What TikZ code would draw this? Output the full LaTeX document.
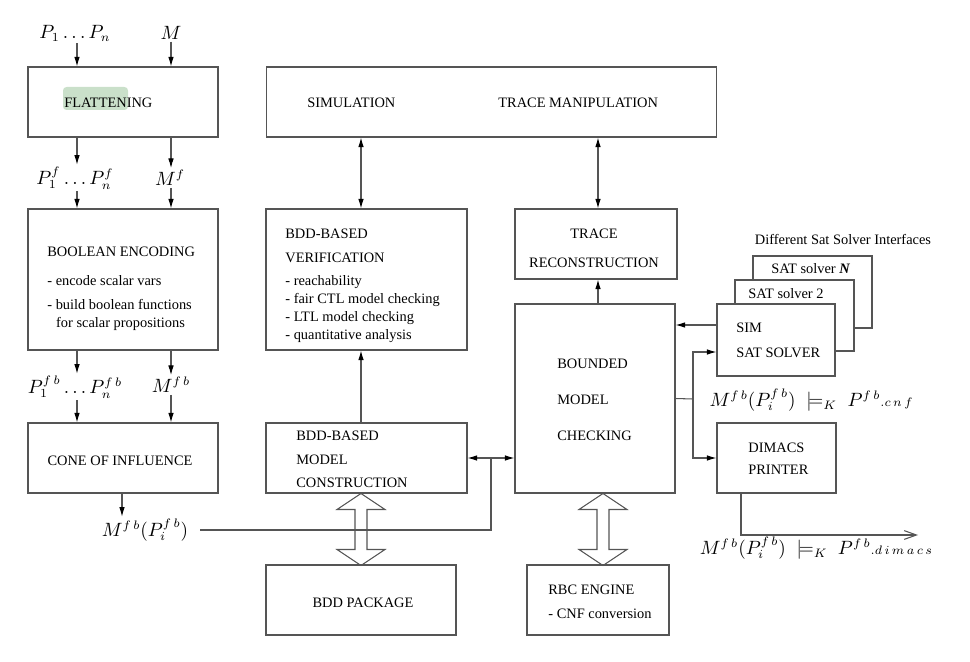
\documentclass[tikz,border=0pt]{standalone}
\usepackage{fontspec}
\setmainfont{Liberation Serif}
\usetikzlibrary{arrows.meta}
\definecolor{hlgreen}{RGB}{202,224,202}
\definecolor{linegray}{RGB}{85,85,85}
\begin{document}
\begin{tikzpicture}[x=0.02cm, y=-0.02cm,
  >={Latex[length=5.5pt,width=3.2pt,color=black]},
  box/.style={draw=linegray, line width=0.6pt, inner sep=0pt},
  txt/.style={font=\fontsize{8.2}{10.2}\selectfont, inner sep=0pt, align=left, anchor=base west},
  mtxt/.style={txt, anchor=north west},
  lab/.style={font=\fontsize{10.5}{12}\selectfont, inner sep=1pt},
  conn/.style={draw=linegray, line width=0.6pt}]
  \useasboundingbox (0,0) rectangle (970,662);
  % left column
  \node[box, minimum width=3.8cm, minimum height=1.4cm] (flat) at (123,102) {};
  \node[box, minimum width=3.8cm, minimum height=2.82cm] (benc) at (123,279.5) {};
  \node[box, minimum width=3.8cm, minimum height=1.4cm] (coi) at (123,458) {};
  % middle column
  \node[box, minimum width=9.02cm, minimum height=1.4cm] (simtr) at (491.5,102) {};
  \node[box, minimum width=4.02cm, minimum height=2.82cm] (bddver) at (366.5,279.5) {};
  \node[box, minimum width=4.02cm, minimum height=1.4cm] (bddcon) at (366.5,458) {};
  \node[box, minimum width=3.8cm, minimum height=1.4cm] (bddpkg) at (361,600) {};
  \node[box, minimum width=3.24cm, minimum height=1.4cm] (trrec) at (596,244) {};
  \node[box, minimum width=3.2cm, minimum height=3.78cm] (bmc) at (595,398.5) {};
  \node[box, minimum width=2.84cm, minimum height=1.4cm] (rbc) at (598,600) {};
  % sat solvers
  \node[box, fill=white, minimum width=2.38cm, minimum height=1.44cm] (satn) at (812.5,292) {};
  \node[box, fill=white, minimum width=2.38cm, minimum height=1.42cm] (sat2) at (794.5,315.5) {};
  \node[box, fill=white, minimum width=2.36cm, minimum height=1.44cm] (simsat) at (776,340) {};
  \node[box, minimum width=2.38cm, minimum height=1.4cm] (dimacs) at (776.5,458) {};

  % box texts
  \fill[hlgreen, rounded corners=2pt] (63,87) rectangle (128,110);
  \node[txt] (tflat) at (64,108) {FLATTENING};
  \node[txt] (tsim) at (307,108) {SIMULATION};
  \node[txt] (ttrm) at (498,108) {TRACE MANIPULATION};
  \node[mtxt] (tbenc) at (47,247) {BOOLEAN ENCODING\\[6.3pt] - encode scalar vars\\[3.4pt] - build boolean functions\\ \hspace*{5pt}for scalar propositions};
  \node[mtxt] (tbddver) at (285,229) {BDD-BASED\\[3.4pt] VERIFICATION\\[2.8pt] - reachability\\ - fair CTL model checking\\ - LTL model checking\\ - quantitative analysis};
  \node[mtxt, align=center, anchor=north] (ttrrec) at (594,229) {TRACE\\[6.3pt] RECONSTRUCTION};
  \node[mtxt] (tbmc) at (557,359) {BOUNDED\\[10.2pt] MODEL\\[10.2pt] CHECKING};
  \node[mtxt] (tsimsat) at (736,323) {SIM\\[4pt] SAT SOLVER};
  \node[txt] (tsat2) at (748,298) {SAT solver 2};
  \node[txt] (tsatn) at (771,274) {SAT solver \textbf{\textit{N}}};
  \node[txt, anchor=base] (tiface) at (843,245) {Different Sat Solver Interfaces};
  \node[txt, anchor=base] (tcoi) at (120,465) {CONE OF INFLUENCE};
  \node[mtxt] (tbddcon) at (296,431) {BDD-BASED\\[3pt] MODEL\\[3pt] CONSTRUCTION};
  \node[txt, anchor=base] (tbddpkg) at (363,607) {BDD PACKAGE};
  \node[mtxt] (trbc) at (548,585) {RBC ENGINE\\[3.4pt] - CNF conversion};
  \node[mtxt] (tdim) at (748,443) {DIMACS\\[2.3pt] PRINTER};

  % math labels
  \node[lab] (pin) at (75,33) {$P_1\ldots P_n$};
  \node[lab] (min) at (171,33) {$M$};
  \node[lab] (pf) at (75,178) {$P_1^{f}\ldots P_n^{f}$};
  \node[lab] (mf) at (170,178) {$M^{f}$};
  \node[lab] (pfb) at (75,387) {$P_1^{f\,b}\ldots P_n^{f\,b}$};
  \node[lab] (mfb) at (171,385) {$M^{f\,b}$};
  \node[lab] (mcoi) at (145,530) {$M^{f\,b}(P_i^{f\,b})$};
  \node[lab] (mcnf) at (811,400) {$M^{f\,b}(P_i^{f\,b})\;\models_{K}\; P^{f\,b}{\scriptstyle .c\,n\,f}$};
  \node[lab] (mdim) at (816,548) {$M^{f\,b}(P_i^{f\,b})\;\models_{K}\; P^{f\,b}{\scriptstyle .d\,i\,m\,a\,c\,s}$};

  % left column arrows
  \draw[conn,->] (77,0 |- pin.south) -- (77,0 |- flat.north);
  \draw[conn,->] (171,0 |- min.south) -- (171,0 |- flat.north);
  \draw[conn,->] (77,0 |- flat.south) -- (77,0 |- pf.north);
  \draw[conn,->] (171,0 |- flat.south) -- (171,0 |- mf.north);
  \draw[conn,->] (77,0 |- pf.south) -- (77,0 |- benc.north);
  \draw[conn,->] (171,0 |- mf.south) -- (171,0 |- benc.north);
  \draw[conn,->] (77,0 |- benc.south) -- (77,0 |- pfb.north);
  \draw[conn,->] (171,0 |- benc.south) -- (171,0 |- mfb.north);
  \draw[conn,->] (77,0 |- pfb.south) -- (77,0 |- coi.north);
  \draw[conn,->] (171,0 |- mfb.south) -- (171,0 |- coi.north);
  \draw[conn,->] (122,0 |- coi.south) -- (122,0 |- mcoi.north);

  % middle arrows
  \draw[conn,<->] (361,0 |- simtr.south) -- (361,0 |- bddver.north);
  \draw[conn,<->] (598,0 |- simtr.south) -- (598,0 |- trrec.north);
  \draw[conn,->] (361,0 |- bddcon.north) -- (361,0 |- bddver.south);
  \draw[conn,->] (598,0 |- bmc.north) -- (598,0 |- trrec.south);
  \coordinate (jl) at (491,458);
  \draw[conn] ([xshift=0.2cm]mcoi.east) -| (jl);
  \draw[conn,->] (jl) -- (bddcon.east);
  \draw[conn,->] (jl) -- (bmc.west |- jl);

  % hollow arrows to the packages
  \foreach \x/\n in {361/bddcon, 603/bmc}
    \draw[conn, line join=miter] (\x,0 |- \n.south) -- ++(24,16) -- ++(-18,0) -- ++(0,40) -- ++(18,0) -- ++(-24,16)
      -- ++(-24,-16) -- ++(18,0) -- ++(0,-40) -- ++(-18,0) -- cycle;

  % right side
  \coordinate (jr) at (693,399);
  \coordinate (dout) at (918,535);
  \draw[conn,->] (simsat.west |- 0,325) -- (bmc.east |- 0,325);
  \draw[conn] (bmc.east) -- (jr);
  \draw[conn,->] (jr) |- (simsat.west |- 0,352);
  \draw[conn,->] (jr) |- (dimacs.west);
  \draw[conn,-{Straight Barb[length=7pt,width=5pt]}] (741,0 |- dimacs.south) |- (dout);
\end{tikzpicture}
\end{document}
